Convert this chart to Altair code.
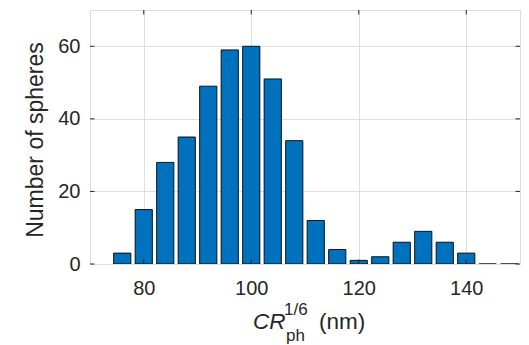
import altair as alt
import pandas as pd

# Data
bin_centers = [76, 80, 84, 88, 92, 96, 100, 104, 108, 112, 116, 120, 124, 128, 132, 136, 140, 144, 148]
counts = [3, 15, 28, 35, 49, 59, 60, 51, 34, 12, 4, 1, 2, 6, 9, 6, 3, 0, 0]
x_ticks = [80, 100, 120, 140]
y_ticks = [0, 20, 40, 60]
x_domain = [70, 150]
y_domain = [0, 70]

W, H = 430, 254
FONT = "Liberation Sans"
TXT = "#262626"
FRAME = "#262626"
BAR = "#0072BD"
GRID = "#dfdfdf"
TICK = 4.5

df = pd.DataFrame({"center": bin_centers, "count": counts})

xs = alt.Scale(domain=x_domain, nice=False, zero=False)
ys = alt.Scale(domain=y_domain, nice=False)

bars = alt.Chart(df).transform_calculate(
    lo="datum.center - 1.6", hi="datum.center + 1.6"
).mark_bar(color=BAR, stroke="#000000", strokeWidth=0.9, clip=True).encode(
    x=alt.X("lo:Q", scale=xs, axis=alt.Axis(
        values=x_ticks, title=None, grid=True, gridColor=GRID, gridWidth=1,
        ticks=False, tickSize=0, domain=False, labelFont=FONT, labelFontSize=20,
        labelColor=TXT, labelPadding=14, labelFlush=False)),
    x2="hi:Q",
    y=alt.Y("count:Q", scale=ys, axis=alt.Axis(
        values=y_ticks, title=None, grid=True, gridColor=GRID, gridWidth=1,
        ticks=False, tickSize=0, domain=False, labelFont=FONT, labelFontSize=20,
        labelColor=TXT, labelPadding=10, labelFlush=False)),
    y2=alt.datum(0),
)

xt = pd.DataFrame({"v": x_ticks})
yt = pd.DataFrame({"v": y_ticks})

def rule_x(y0, y1):
    return alt.Chart(xt).mark_rule(color=FRAME, strokeWidth=1).encode(
        x=alt.X("v:Q", scale=xs), y=alt.value(y0), y2=alt.value(y1))

def rule_y(x0, x1):
    return alt.Chart(yt).mark_rule(color=FRAME, strokeWidth=1).encode(
        y=alt.Y("v:Q", scale=ys), x=alt.value(x0), x2=alt.value(x1))

ticks = [rule_x(0, TICK), rule_x(H, H - TICK), rule_y(0, TICK), rule_y(W, W - TICK)]

one = pd.DataFrame({"k": [0]})

def label(text, x, y, size, italic=False, angle=0, align="left", baseline="alphabetic"):
    kw = dict(font=FONT, fontSize=size, color=TXT, align=align, baseline=baseline)
    if italic:
        kw["fontStyle"] = "italic"
    if angle:
        kw["angle"] = angle
    return alt.Chart(one).mark_text(**kw).encode(
        x=alt.value(x), y=alt.value(y), text=alt.value(text))

texts = [
    label("CR", 163, 319, 22.5, italic=True),
    label("1/6", 194, 305, 17),
    label("ph", 196, 331, 17),
    label("(nm)", 229, 319, 22.5),
    label("Number of spheres", -47, 130, 23, angle=270, align="center"),
]

chart = alt.layer(bars, *ticks, *texts).properties(
    width=W, height=H,
    autosize=alt.AutoSizeParams(type="none"),
    padding={"left": 82, "top": 2, "right": 1, "bottom": 81},
).configure_view(stroke=FRAME, strokeWidth=1).configure(background="white")

chart.save("out.html", embed_options={"renderer": "svg", "actions": False})
